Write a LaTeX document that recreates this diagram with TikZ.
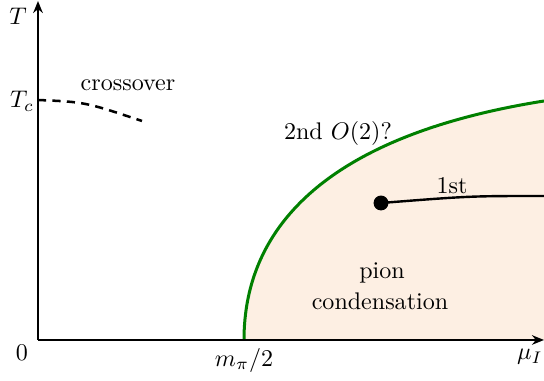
\documentclass[tikz,border=0pt]{standalone}
\usetikzlibrary{arrows.meta}
\definecolor{peach}{RGB}{253,239,227}
\definecolor{dgreen}{RGB}{0,128,0}
\begin{document}
\begin{tikzpicture}[x=0.416pt,y=-0.416pt,
  axis/.style={line width=0.85pt,-{Stealth[length=5pt,width=4pt]}},
  lbl/.style={inner sep=0pt,font=\normalsize}]
\useasboundingbox (0,0) rectangle (544,381);
\coordinate (O) at (38,340);
\coordinate (Ytop) at (38,1);
\coordinate (Xr) at (544,340);
\coordinate (S) at (244,340);
\coordinate (E) at (544,101);
\fill[peach] (S) .. controls (244,225) and (330,135) .. (E) -- (Xr) -- cycle;
\draw[dgreen,line width=1.25pt] (S) .. controls (244,225) and (330,135) .. (E);
\draw[axis] (O) -- (Xr);
\draw[axis] (O) -- (Ytop);
\coordinate (Tc) at (38,100);
\coordinate (Cend) at (142,121);
\draw[line width=1.05pt,dash pattern=on 3.4pt off 2.6pt] (Tc) .. controls (85,102) .. (Cend);
\node[circle,fill=black,inner sep=0pt,minimum size=6.2pt] (dot) at (381,203) {};
\coordinate (Lend) at (544,196);
\draw[line width=1pt] (dot.center) .. controls (470,196) .. (Lend);
\node[lbl] (T) at (18,16) {$T$};
\node[lbl] (Tcl) at (22,101) {$T_c$};
\node[lbl] (zero) at (22,353) {$0$};
\node[lbl] (mpi) at (244,360) {$m_\pi/2$};
\node[lbl] (mu) at (530,357) {$\mu_I$};
\node[lbl] (cross) at (128,85) {crossover};
\node[lbl] (second) at (338,133) {2nd $O(2)$?};
\node[lbl] (first) at (452,186) {1st};
\node[lbl] (pion) at (382,273) {pion};
\node[lbl] (cond) at (380,301) {condensation};
\end{tikzpicture}
\end{document}
